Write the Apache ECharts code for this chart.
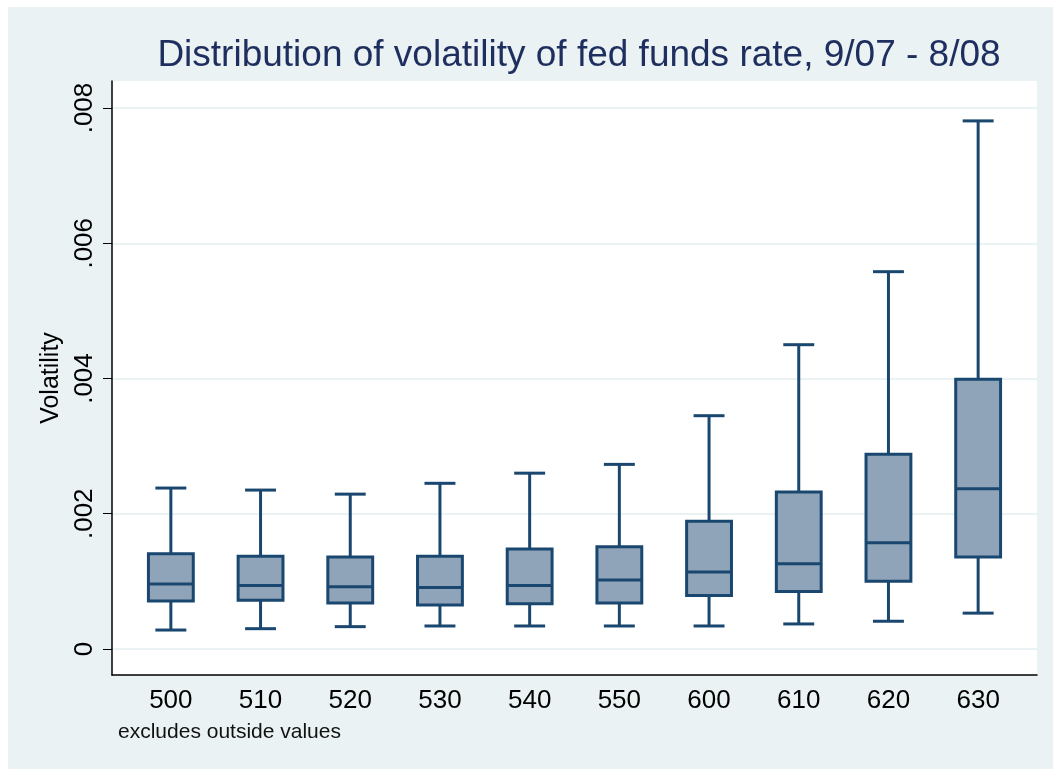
<!DOCTYPE html>
<html>
<head>
<meta charset="utf-8">
<script src="https://cdn.jsdelivr.net/npm/echarts@6/dist/echarts.min.js"></script>
<style>
    html, body { margin: 0; padding: 0; background: #ffffff; }
    #chart { position: absolute; left: 8px; top: 7px; width: 1045px; height: 762px; }
</style>
</head>
<body>
<div id="chart"></div>
<script>
// fed funds target groups (basis points)
var categories = ['500', '510', '520', '530', '540', '550', '600', '610', '620', '630'];
var lowerWhisker = [0.00028, 0.00030, 0.00033, 0.00034, 0.00034, 0.00034, 0.00034, 0.00037, 0.00041, 0.00053];
var q1 = [0.00071, 0.00072, 0.00068, 0.00065, 0.00067, 0.00068, 0.00079, 0.00085, 0.00100, 0.00136];
var median = [0.00096, 0.00094, 0.00092, 0.00091, 0.00094, 0.00102, 0.00114, 0.00126, 0.00157, 0.00237];
var q3 = [0.00141, 0.00137, 0.00136, 0.00137, 0.00148, 0.00151, 0.00189, 0.00232, 0.00288, 0.00399];
var upperWhisker = [0.00238, 0.00235, 0.00229, 0.00245, 0.00260, 0.00273, 0.00345, 0.00450, 0.00558, 0.00781];
var yTicks = [0, 0.002, 0.004, 0.006, 0.008];

var navy = '#1A476F';
var boxFill = '#8FA4B9';
var bg = '#EAF2F3';
var yMin = -0.000385, yMax = 0.0084;

var boxData = categories.map(function (c, i) {
    return [i, lowerWhisker[i], q1[i], median[i], q3[i], upperWhisker[i]];
});

function renderBox(params, api) {
    var idx = api.value(0);
    var lo = api.coord([idx, api.value(1)]);
    var p1 = api.coord([idx, api.value(2)]);
    var md = api.coord([idx, api.value(3)]);
    var p3 = api.coord([idx, api.value(4)]);
    var hi = api.coord([idx, api.value(5)]);
    var band = api.size([1, 0])[0];
    var bw = band * 0.5, cw = band * 0.345;
    var cx = lo[0];
    var st = {stroke: navy, lineWidth: 3, fill: null};
    return {
        type: 'group',
        children: [
            {type: 'line', shape: {x1: cx, y1: hi[1], x2: cx, y2: p3[1]}, style: st},
            {type: 'line', shape: {x1: cx, y1: p1[1], x2: cx, y2: lo[1]}, style: st},
            {type: 'line', shape: {x1: cx - cw / 2, y1: hi[1], x2: cx + cw / 2, y2: hi[1]}, style: st},
            {type: 'line', shape: {x1: cx - cw / 2, y1: lo[1], x2: cx + cw / 2, y2: lo[1]}, style: st},
            {type: 'rect', shape: {x: cx - bw / 2, y: p3[1], width: bw, height: p1[1] - p3[1]},
                style: {fill: boxFill, stroke: navy, lineWidth: 3}},
            {type: 'line', shape: {x1: cx - bw / 2, y1: md[1], x2: cx + bw / 2, y2: md[1]}, style: st}
        ]
    };
}

var chart = echarts.init(document.getElementById('chart'));
var option = {
    backgroundColor: bg,
    animation: false,
    textStyle: {fontFamily: 'Liberation Sans, Arial, sans-serif'},
    title: {
        text: 'Distribution of volatility of fed funds rate, 9/07 - 8/08',
        left: 566,
        top: 25,
        textAlign: 'center',
        textStyle: {
            fontFamily: 'Liberation Sans Narrow, Arial Narrow, sans-serif',
            fontWeight: 'normal',
            fontSize: 37,
            color: '#1E2E5E'
        }
    },
    grid: [
        // frame of the plot region
        {left: 104, right: 16, top: 74, bottom: 94, show: true, backgroundColor: '#ffffff', borderWidth: 0},
        // boxes
        {left: 118, right: 30, top: 74, bottom: 94}
    ],
    xAxis: [
        {
            gridIndex: 0, type: 'value', min: 0, max: 1,
            axisLine: {show: true, onZero: false, lineStyle: {color: '#000', width: 1.5}},
            axisTick: {show: false}, axisLabel: {show: false}, splitLine: {show: false}
        },
        {
            gridIndex: 1, type: 'category', data: categories,
            axisLine: {show: false}, axisTick: {show: false},
            axisLabel: {fontSize: 26, color: '#000', margin: 13}
        }
    ],
    yAxis: [
        {
            gridIndex: 0, type: 'value', min: yMin, max: yMax,
            name: 'Volatility', nameLocation: 'middle', nameRotate: 90, nameGap: 45,
            nameTextStyle: {fontSize: 25, color: '#000'},
            axisLine: {show: true, lineStyle: {color: '#000', width: 1.5}},
            axisTick: {show: true, length: 9, customValues: yTicks, lineStyle: {color: '#000'}},
            axisLabel: {
                rotate: 90, fontSize: 26, color: '#000', margin: 14,
                customValues: yTicks,
                formatter: function (v) {
                    return v === 0 ? '0' : v.toFixed(3).replace(/^0/, '');
                }
            },
            splitLine: {show: true, lineStyle: {color: bg, width: 2}}
        },
        {
            gridIndex: 1, type: 'value', min: yMin, max: yMax,
            axisLine: {show: false}, axisTick: {show: false}, axisLabel: {show: false}, splitLine: {show: false}
        }
    ],
    graphic: [
        {
            type: 'text', left: 110, top: 715,
            style: {text: 'excludes outside values', fontSize: 21, fill: '#111', fontFamily: 'Liberation Sans, Arial, sans-serif'}
        }
    ],
    series: [
        {
            type: 'custom',
            xAxisIndex: 1,
            yAxisIndex: 1,
            renderItem: renderBox,
            encode: {x: 0, y: [1, 2, 3, 4, 5]},
            data: boxData
        }
    ]
};
chart.setOption(option);
</script>
</body>
</html>
